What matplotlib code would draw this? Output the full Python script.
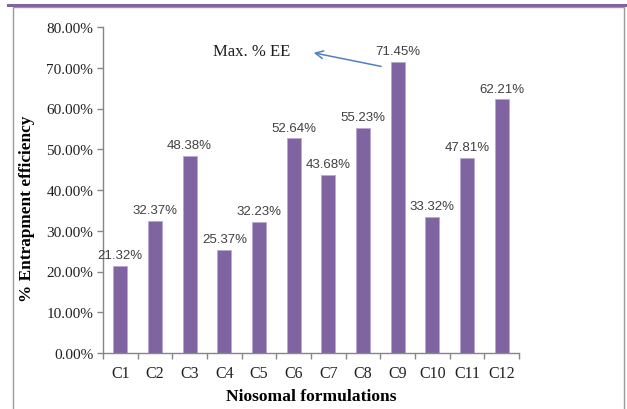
import numpy as np
import matplotlib.pyplot as plt
from matplotlib.patches import Rectangle
from matplotlib.lines import Line2D

formulations = ["C1", "C2", "C3", "C4", "C5", "C6",
                "C7", "C8", "C9", "C10", "C11", "C12"]
ee = [21.32, 32.37, 48.38, 25.37, 32.23, 52.64,
      43.68, 55.23, 71.45, 33.32, 47.81, 62.21]
yticks = [0, 10, 20, 30, 40, 50, 60, 70, 80]

purple = "#8064A2"
grey = "#868686"

W, H = 627, 410
fig = plt.figure(figsize=(W / 100, H / 100), dpi=100)

# frame around the chart area and the purple rule on top
fig.add_artist(Rectangle((13 / W, -0.01), (624 - 13) / W, 1 - 8 / H + 0.01,
                         transform=fig.transFigure, fill=False,
                         edgecolor="#9a9a9a", lw=1.0))
fig.add_artist(Line2D([8 / W, 1.0], [1 - 5.5 / H, 1 - 5.5 / H],
                      transform=fig.transFigure, color=purple, lw=2.2))

ax = fig.add_axes([103 / W, 1 - 354 / H, (519 - 103) / W, (354 - 28) / H])

x = np.arange(len(ee))
bars = ax.bar(x, ee, width=0.41, color=purple, edgecolor="#b9a7cf",
              linewidth=0.6, zorder=2)

for xi, v in zip(x, ee):
    ax.text(xi, v + 1.2, f"{v:.2f}%", ha="center", va="bottom",
            fontsize=9.5, color="#404040", family="Liberation Sans")

ax.set_xlim(-0.5, len(ee) - 0.5)
ax.set_ylim(0, 80)
ax.set_yticks(yticks)
ax.set_yticklabels([f"{t:.2f}%" for t in yticks],
                   family="Liberation Serif", fontsize=11, color="#202020")
ax.set_xticks(x)
ax.set_xticklabels(formulations, family="Liberation Serif", fontsize=11.5,
                   color="#202020")
ax.tick_params(axis="x", which="major", length=0, pad=9)
ax.set_xticks(np.arange(-0.5, len(ee), 1), minor=True)
ax.tick_params(axis="x", which="minor", length=4, color=grey, width=1)
ax.tick_params(axis="y", length=4, color=grey, width=1, pad=3)

for s in ("top", "right"):
    ax.spines[s].set_visible(False)
for s in ("left", "bottom"):
    ax.spines[s].set_color(grey)
    ax.spines[s].set_linewidth(1)

ax.set_xlabel("Niosomal formulations", family="Liberation Serif",
              fontweight="bold", fontsize=12.6, labelpad=5)
fig.text(27 / W, 1 - 209 / H, "% Entrapment efficiency",
         family="Liberation Serif", fontweight="bold", fontsize=12.4,
         rotation=90, ha="center", va="center")

# pointer to the highest formulation
ax.annotate("", xy=(5.5, 73.8), xytext=(7.6, 70.2),
            arrowprops=dict(arrowstyle="->", color="#4F81BD", lw=1.1,
                            mutation_scale=14))
ax.text(3.78, 74.2, "Max. % EE", family="Liberation Serif", fontsize=12,
        ha="center", va="center", color="#202020")

fig.savefig("out.png", dpi=100)
